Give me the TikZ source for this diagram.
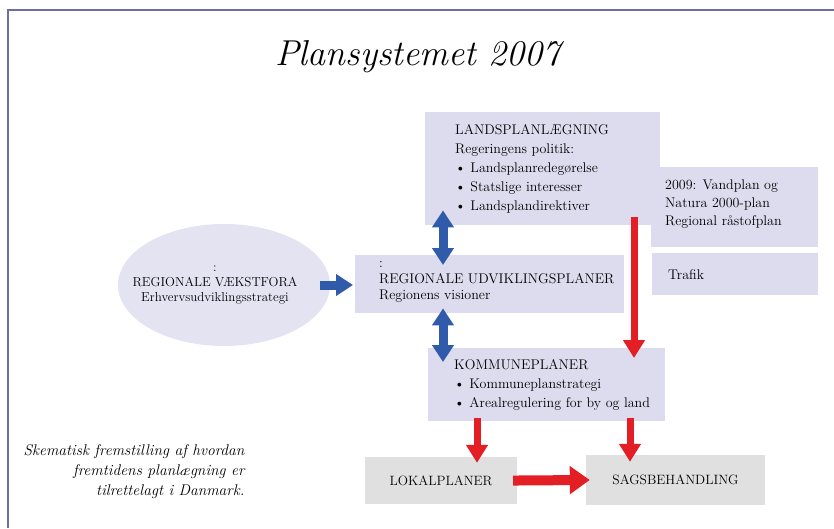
\documentclass[tikz,border=0pt]{standalone}
\usetikzlibrary{arrows.meta,shapes.geometric}

\definecolor{framelilac}{HTML}{6D6DA6}
\definecolor{boxlilac}{HTML}{DCDCEE}
\definecolor{ovallilac}{HTML}{E3E3F2}
\definecolor{boxgray}{HTML}{E0E0E0}
\definecolor{arrowblue}{HTML}{2F5BAA}
\definecolor{arrowred}{HTML}{E31E25}

\tikzset{
  planbox/.style={fill=boxlilac,anchor=north west,inner sep=0pt},
  boxtext/.style={anchor=west,align=left,inner sep=0pt,font=\fontsize{14}{19}\selectfont},
  graybox/.style={fill=boxgray,font=\fontsize{13.5}{15}\selectfont},
  bluearrow/.style={draw=arrowblue,line width=9pt,-{Triangle[width=21pt,length=17pt]}},
  bluedouble/.style={draw=arrowblue,line width=9pt,
    {Triangle[width=21pt,length=17pt]}-{Triangle[width=21pt,length=17pt]}},
  redarrow/.style={draw=arrowred,line width=7pt,-{Triangle[width=21pt,length=18pt]}},
  redwide/.style={draw=arrowred,line width=10pt,-{Triangle[width=27pt,length=20pt]}}
}

\begin{document}
\begin{tikzpicture}[x=1pt,y=-1pt]

      \useasboundingbox (0,0) rectangle (834,528);
      \draw[framelilac,line width=2pt] (834,10) -- (8,10) -- (8,528);

      \node[font=\fontsize{36}{40}\selectfont\itshape] (title) at (418,57) {Plansystemet 2007};

      % lilac plan boxes
      \begin{scope}[every node/.style={planbox}]
        \node[minimum width=235pt,minimum height=113pt] (lp) at (425,112) {};
        \node[minimum width=167pt,minimum height=80pt] (vp) at (651,167) {};
        \node[minimum width=166pt,minimum height=42pt] (tr) at (652,253) {};
        \node[minimum width=269pt,minimum height=58pt] (ru) at (355,255) {};
        \node[minimum width=237pt,minimum height=73pt] (kp) at (428,348) {};
      \end{scope}

      \begin{scope}[every node/.style={boxtext}]
        \node (lptext) at ([xshift=30pt]lp.west)
          {LANDSPLANLÆGNING\\Regeringens politik:\\
           \textbullet\ Landsplanredegørelse\\\textbullet\ Statslige interesser\\
           \textbullet\ Landsplandirektiver};
        \node[font=\fontsize{14}{18}\selectfont] (vptext) at ([xshift=14pt,yshift=3pt]vp.west)
          {2009: Vandplan og\\Natura 2000-plan\\Regional råstofplan};
        \node (trtext) at ([xshift=16pt]tr.west) {Trafik};
        \node[font=\fontsize{14}{16}\selectfont] (rutext) at ([xshift=24pt,yshift=2pt]ru.west)
          {:\\REGIONALE UDVIKLINGSPLANER\\Regionens visioner};
        \node (kptext) at ([xshift=26pt]kp.west)
          {KOMMUNEPLANER\\\textbullet\ Kommuneplanstrategi\\
           \textbullet\ Arealregulering for by og land};
      \end{scope}

      \node[ellipse,fill=ovallilac,minimum width=212pt,minimum height=122pt] (vf) at (224,285) {};
      \node[align=center,font=\fontsize{13}{15}\selectfont] (vftext) at ([xshift=-9pt]vf.center)
        {:\\REGIONALE VÆKSTFORA\\Erhvervsudviklingsstrategi};

      \node[graybox,minimum width=152pt,minimum height=47pt] (lk) at (441,480.5) {LOKALPLANER};
      \node[graybox,minimum width=179pt,minimum height=50pt] (sb) at (675.5,480) {SAGSBEHANDLING};

      \node[anchor=east,align=right,font=\fontsize{15.5}{20}\selectfont\itshape] (note) at (248,472)
        {Skematisk fremstilling af hvordan\\fremtidens planlægning er\\tilrettelagt i Danmark.};

      \coordinate (ax) at (443,0);
      \coordinate (rt) at (634,0);
      \coordinate (rl) at (477,0);
      \coordinate (rr) at (630,0);

      % blue: regional level
      \path (vf.east) edge[bluearrow,shorten <=-10pt,shorten >=2pt] (vf.east -| ru.west);
      \path (ax |- lp.south) edge[bluedouble,shorten <=-15pt,shorten >=-10pt] (ax |- ru.north);
      \path (ax |- ru.south) edge[bluedouble,shorten <=-5pt,shorten >=-14pt] (ax |- kp.north);

      % red: binding plans
      \path (rt |- lp.south) edge[redarrow,shorten <=-8pt,shorten >=-10pt] (rt |- kp.north);
      \path (rl |- kp.south) edge[redarrow,shorten <=-3pt,shorten >=-6pt] (rl |- lk.north);
      \path (rr |- kp.south) edge[redarrow,shorten <=-3pt,shorten >=-7pt] (rr |- sb.north);
      \path (lk.east) edge[redwide,shorten <=-4pt,shorten >=-4pt] (sb.west);

    \end{tikzpicture}
\end{document}
